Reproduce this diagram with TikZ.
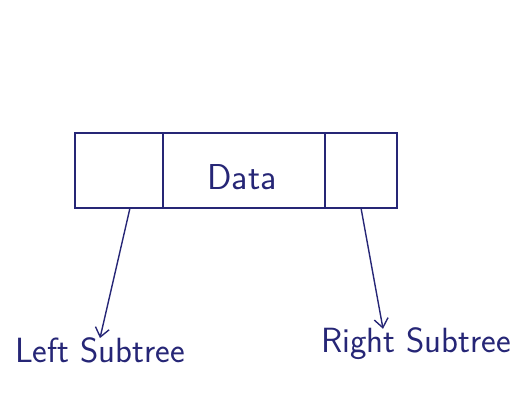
\documentclass[tikz,border=0pt]{standalone}
\usepackage{tikz}
\usetikzlibrary{arrows.meta,positioning}
\definecolor{inkblue}{RGB}{38,38,118}

\begin{document}
\begin{tikzpicture}[
  x=1pt, y=-1pt,
  cell/.style={draw=inkblue, line width=1.6pt, minimum height=75pt,
               inner sep=0pt, outer sep=0pt, text=inkblue,
               font=\sffamily\fontsize{36}{40}\selectfont},
  label/.style={text=inkblue, inner sep=1pt,
                font=\sffamily\fontsize{35}{40}\selectfont},
  arrow/.style={-{Straight Barb[length=9pt,width=14pt,line width=1.4pt]},
                line width=1.4pt, draw=inkblue}
]
\useasboundingbox (0,0) rectangle (526,413);

% the record: left | data | right
\node[cell, minimum width=88pt] (leftcell) at (119,170.5) {};
\node[cell, minimum width=162pt] (datacell) at (244,170.5) {};
\node[text=inkblue, font=\sffamily\fontsize{36}{40}\selectfont]
  (datatext) at (242,177) {Data};
\node[cell, minimum width=72pt] (rightcell) at (361,170.5) {};

\node[label] (leftlabel) at (100,350) {Left Subtree};
\node[label] (rightlabel) at (416,344) {Right Subtree};

\draw[arrow] ([xshift=11pt]leftcell.south) -- ([yshift=-2pt]leftlabel.north);
\draw[arrow] (rightcell.south) -- ([xshift=-33pt,yshift=-2pt]rightlabel.north);
\end{tikzpicture}
\end{document}
